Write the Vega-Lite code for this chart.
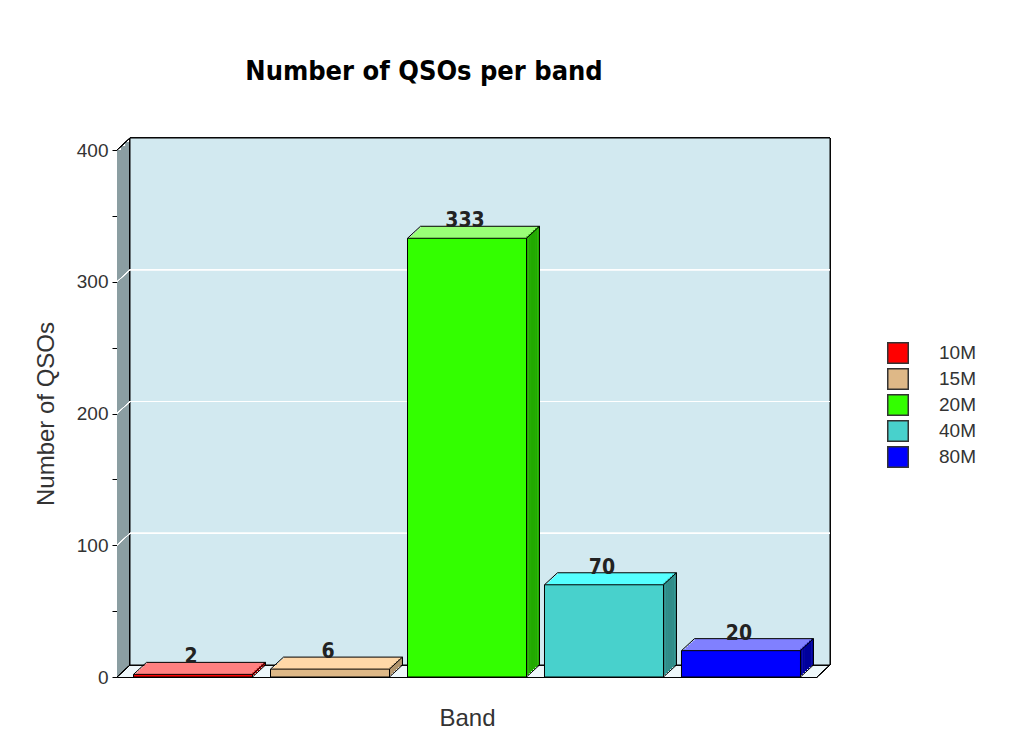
{
  "$schema": "https://vega.github.io/schema/vega-lite/v6.json",
  "autosize": {"type": "none"},
  "width": 700,
  "height": 527,
  "padding": {"left": 117, "top": 150, "right": 207, "bottom": 73},
  "background": "#ffffff",
  "config": {"view": {"stroke": null}, "font": "Liberation Sans"},
  "title": {
    "text": "Number of QSOs per band",
    "font": "DejaVu Sans Condensed",
    "fontSize": 27,
    "fontWeight": "bold",
    "color": "#000000",
    "anchor": "middle",
    "frame": "group",
    "dx": -43,
    "offset": 31,
    "baseline": "alphabetic"
  },
  "data": {
    "values": [
      {"band": "10M", "qsos": 2},
      {"band": "15M", "qsos": 6},
      {"band": "20M", "qsos": 333},
      {"band": "40M", "qsos": 70},
      {"band": "80M", "qsos": 20}
    ]
  },
  "resolve": {"scale": {"x": "independent"}, "axis": {"x": "independent"}},
  "layer": [
    {
      "encoding": {
        "x": {"datum": 0, "type": "quantitative", "scale": {"domain": [0, 1]}, "axis": null},
        "x2": {"datum": 1}
      },
      "layer": [
        {"mark": {"type": "rect", "fill": "#8b9ea2"}, "encoding": {"y": {"datum": 0, "type": "quantitative"}, "y2": {"datum": 400}}},
        {"mark": {"type": "rect", "fill": "#8b9ea2", "xOffset": 4.33, "x2Offset": 4.33, "yOffset": -4, "y2Offset": -4}, "encoding": {"y": {"datum": 0, "type": "quantitative"}, "y2": {"datum": 400}}},
        {"mark": {"type": "rect", "fill": "#8b9ea2", "xOffset": 8.67, "x2Offset": 8.67, "yOffset": -8, "y2Offset": -8}, "encoding": {"y": {"datum": 0, "type": "quantitative"}, "y2": {"datum": 400}}},
        {"mark": {"type": "rect", "fill": "#eef7fa", "xOffset": 1.08, "x2Offset": 1.08, "yOffset": 0, "y2Offset": -2}, "encoding": {"y": {"datum": 0, "type": "quantitative"}, "y2": {"datum": 0}}},
        {"mark": {"type": "rect", "fill": "#eef7fa", "xOffset": 3.25, "x2Offset": 3.25, "yOffset": -2, "y2Offset": -4}, "encoding": {"y": {"datum": 0, "type": "quantitative"}, "y2": {"datum": 0}}},
        {"mark": {"type": "rect", "fill": "#eef7fa", "xOffset": 5.42, "x2Offset": 5.42, "yOffset": -4, "y2Offset": -6}, "encoding": {"y": {"datum": 0, "type": "quantitative"}, "y2": {"datum": 0}}},
        {"mark": {"type": "rect", "fill": "#eef7fa", "xOffset": 7.58, "x2Offset": 7.58, "yOffset": -6, "y2Offset": -8}, "encoding": {"y": {"datum": 0, "type": "quantitative"}, "y2": {"datum": 0}}},
        {"mark": {"type": "rect", "fill": "#eef7fa", "xOffset": 9.75, "x2Offset": 9.75, "yOffset": -8, "y2Offset": -10}, "encoding": {"y": {"datum": 0, "type": "quantitative"}, "y2": {"datum": 0}}},
        {"mark": {"type": "rect", "fill": "#eef7fa", "xOffset": 11.92, "x2Offset": 11.92, "yOffset": -10, "y2Offset": -12}, "encoding": {"y": {"datum": 0, "type": "quantitative"}, "y2": {"datum": 0}}},
        {"mark": {"type": "rect", "fill": "#d2e9f0", "stroke": "#000000", "strokeWidth": 1, "xOffset": 13, "x2Offset": 13, "yOffset": -12, "y2Offset": -12}, "encoding": {"y": {"datum": 0, "type": "quantitative"}, "y2": {"datum": 400}}},
        {"mark": {"type": "rule", "stroke": "#ffffff", "strokeWidth": 1, "xOffset": 13, "x2Offset": 13, "yOffset": -12}, "encoding": {"y": {"datum": 100, "type": "quantitative"}}},
        {"mark": {"type": "rule", "stroke": "#ffffff", "strokeWidth": 1, "xOffset": 13, "x2Offset": 13, "yOffset": -12}, "encoding": {"y": {"datum": 200, "type": "quantitative"}}},
        {"mark": {"type": "rule", "stroke": "#ffffff", "strokeWidth": 1, "xOffset": 13, "x2Offset": 13, "yOffset": -12}, "encoding": {"y": {"datum": 300, "type": "quantitative"}}},
        {"mark": {"type": "rule", "stroke": "#ffffff", "strokeWidth": 1, "x2Offset": 13, "y2Offset": -12}, "encoding": {"x2": {"datum": 0}, "y": {"datum": 100, "type": "quantitative"}, "y2": {"datum": 100}}},
        {"mark": {"type": "rule", "stroke": "#ffffff", "strokeWidth": 1, "x2Offset": 13, "y2Offset": -12}, "encoding": {"x2": {"datum": 0}, "y": {"datum": 200, "type": "quantitative"}, "y2": {"datum": 200}}},
        {"mark": {"type": "rule", "stroke": "#ffffff", "strokeWidth": 1, "x2Offset": 13, "y2Offset": -12}, "encoding": {"x2": {"datum": 0}, "y": {"datum": 300, "type": "quantitative"}, "y2": {"datum": 300}}},
        {"mark": {"type": "rule", "stroke": "#000000", "strokeWidth": 1, "x2Offset": 13, "y2Offset": -12}, "encoding": {"x2": {"datum": 0}, "y": {"datum": 0, "type": "quantitative"}, "y2": {"datum": 0}}},
        {"mark": {"type": "rule", "stroke": "#000000", "strokeWidth": 1, "x2Offset": 13, "y2Offset": -12}, "encoding": {"x": {"datum": 1, "type": "quantitative"}, "x2": {"datum": 1}, "y": {"datum": 0, "type": "quantitative"}, "y2": {"datum": 0}}},
        {"mark": {"type": "rule", "stroke": "#000000", "strokeWidth": 1, "x2Offset": 13, "y2Offset": -12}, "encoding": {"x2": {"datum": 0}, "y": {"datum": 400, "type": "quantitative"}, "y2": {"datum": 400}}}
      ]
    },
    {
      "encoding": {
        "x": {
          "field": "band",
          "type": "nominal",
          "scale": {"paddingInner": 0.13, "paddingOuter": 0.12},
          "axis": {"orient": "bottom", "title": "Band", "labels": false, "ticks": false, "domainColor": "#000000", "domainWidth": 1, "titleFont": "Liberation Sans", "titleFontSize": 24, "titleFontWeight": "normal", "titleColor": "#333333", "titlePadding": 29}
        },
        "y": {
          "field": "qsos",
          "type": "quantitative",
          "scale": {"domain": [0, 400], "nice": false, "zero": true},
          "axis": {
            "title": "Number of QSOs",
            "values": [0, 50, 100, 150, 200, 250, 300, 350, 400],
            "labelExpr": "datum.value % 100 == 0 ? datum.label : ''",
            "grid": false,
            "domainColor": "#000000",
            "tickColor": "#000000",
            "tickSize": 5,
            "labelFont": "Liberation Sans",
            "labelFontSize": 19,
            "labelColor": "#333333",
            "labelPadding": 4,
            "titleFont": "Liberation Sans",
            "titleFontSize": 24,
            "titleFontWeight": "normal",
            "titleColor": "#333333",
            "titlePadding": 18
          }
        }
      },
      "layer": [
        {"mark": {"type": "bar", "width": 119, "xOffset": 2.17, "yOffset": -2, "y2Offset": -2}, "encoding": {"fill": {"field": "band", "type": "nominal", "scale": {"range": ["#ff8080", "#ffd8a8", "#99ff77", "#55ffff", "#8080ff"]}, "legend": null}}},
        {"mark": {"type": "bar", "width": 119, "xOffset": 4.33, "yOffset": -4, "y2Offset": -4}, "encoding": {"fill": {"field": "band", "type": "nominal", "legend": null}}},
        {"mark": {"type": "bar", "width": 119, "xOffset": 6.5, "yOffset": -6, "y2Offset": -6}, "encoding": {"fill": {"field": "band", "type": "nominal", "legend": null}}},
        {"mark": {"type": "bar", "width": 119, "xOffset": 8.67, "yOffset": -8, "y2Offset": -8}, "encoding": {"fill": {"field": "band", "type": "nominal", "legend": null}}},
        {"mark": {"type": "bar", "width": 119, "xOffset": 10.83, "yOffset": -10, "y2Offset": -10}, "encoding": {"fill": {"field": "band", "type": "nominal", "legend": null}}},
        {"mark": {"type": "bar", "width": 119, "xOffset": 13, "yOffset": -12, "y2Offset": -12}, "encoding": {"fill": {"field": "band", "type": "nominal", "legend": null}}},
        {"mark": {"type": "rule", "strokeWidth": 2.4, "xOffset": 60.59, "yOffset": -2, "y2Offset": -2}, "encoding": {"y2": {"datum": 0}, "stroke": {"field": "band", "type": "nominal", "scale": {"range": ["#c00000", "#b0936c", "#22aa00", "#308b88", "#00009c"]}, "legend": null}}},
        {"mark": {"type": "rule", "strokeWidth": 2.4, "xOffset": 62.75, "yOffset": -4, "y2Offset": -4}, "encoding": {"y2": {"datum": 0}, "stroke": {"field": "band", "type": "nominal", "legend": null}}},
        {"mark": {"type": "rule", "strokeWidth": 2.4, "xOffset": 64.92, "yOffset": -6, "y2Offset": -6}, "encoding": {"y2": {"datum": 0}, "stroke": {"field": "band", "type": "nominal", "legend": null}}},
        {"mark": {"type": "rule", "strokeWidth": 2.4, "xOffset": 67.09, "yOffset": -8, "y2Offset": -8}, "encoding": {"y2": {"datum": 0}, "stroke": {"field": "band", "type": "nominal", "legend": null}}},
        {"mark": {"type": "rule", "strokeWidth": 2.4, "xOffset": 69.25, "yOffset": -10, "y2Offset": -10}, "encoding": {"y2": {"datum": 0}, "stroke": {"field": "band", "type": "nominal", "legend": null}}},
        {"mark": {"type": "rule", "strokeWidth": 2.4, "xOffset": 71.42, "yOffset": -12, "y2Offset": -12}, "encoding": {"y2": {"datum": 0}, "stroke": {"field": "band", "type": "nominal", "legend": null}}},
        {
          "mark": {"type": "bar", "width": 119, "stroke": "#000000", "strokeWidth": 1},
          "encoding": {
            "color": {
              "field": "band",
              "type": "nominal",
              "scale": {"range": ["#ff0000", "#deb887", "#33ff00", "#48d1cc", "#0000ff"]},
              "legend": {
                "title": null,
                "orient": "none",
                "legendX": 770,
                "legendY": 192,
                "symbolType": "square",
                "symbolSize": 420,
                "symbolStrokeColor": "#333333",
                "symbolStrokeWidth": 1.5,
                "symbolOpacity": 1,
                "labelFont": "Liberation Sans",
                "labelFontSize": 19,
                "labelColor": "#333333",
                "labelOffset": 30,
                "rowPadding": -2
              }
            }
          }
        },
        {"mark": {"type": "rule", "stroke": "#000000", "strokeWidth": 1, "xOffset": -59.5, "x2Offset": -46.5, "y2Offset": -12}, "encoding": {"x2": {"field": "band"}, "y2": {"field": "qsos"}}},
        {"mark": {"type": "rule", "stroke": "#000000", "strokeWidth": 1, "xOffset": 59.5, "x2Offset": 72.5, "y2Offset": -12}, "encoding": {"x2": {"field": "band"}, "y2": {"field": "qsos"}}},
        {"mark": {"type": "rule", "stroke": "#000000", "strokeWidth": 1, "xOffset": -46.5, "x2Offset": 72.5, "yOffset": -12, "y2Offset": -12}, "encoding": {"x2": {"field": "band"}, "y2": {"field": "qsos"}}},
        {"mark": {"type": "rule", "stroke": "#000000", "strokeWidth": 1, "xOffset": 72.5, "x2Offset": 72.5, "yOffset": -12, "y2Offset": -12}, "encoding": {"x2": {"field": "band"}, "y2": {"datum": 0}}},
        {"mark": {"type": "rule", "stroke": "#000000", "strokeWidth": 1, "xOffset": 59.5, "x2Offset": 72.5, "y2Offset": -12}, "encoding": {"x2": {"field": "band"}, "y": {"datum": 0, "type": "quantitative"}, "y2": {"datum": 0}}},
        {
          "mark": {"type": "text", "font": "DejaVu Sans Condensed", "fontSize": 21, "fontWeight": "bold", "color": "#222222", "baseline": "alphabetic", "dy": -11, "dx": -2},
          "encoding": {"text": {"field": "qsos", "type": "quantitative"}}
        }
      ]
    }
  ]
}
